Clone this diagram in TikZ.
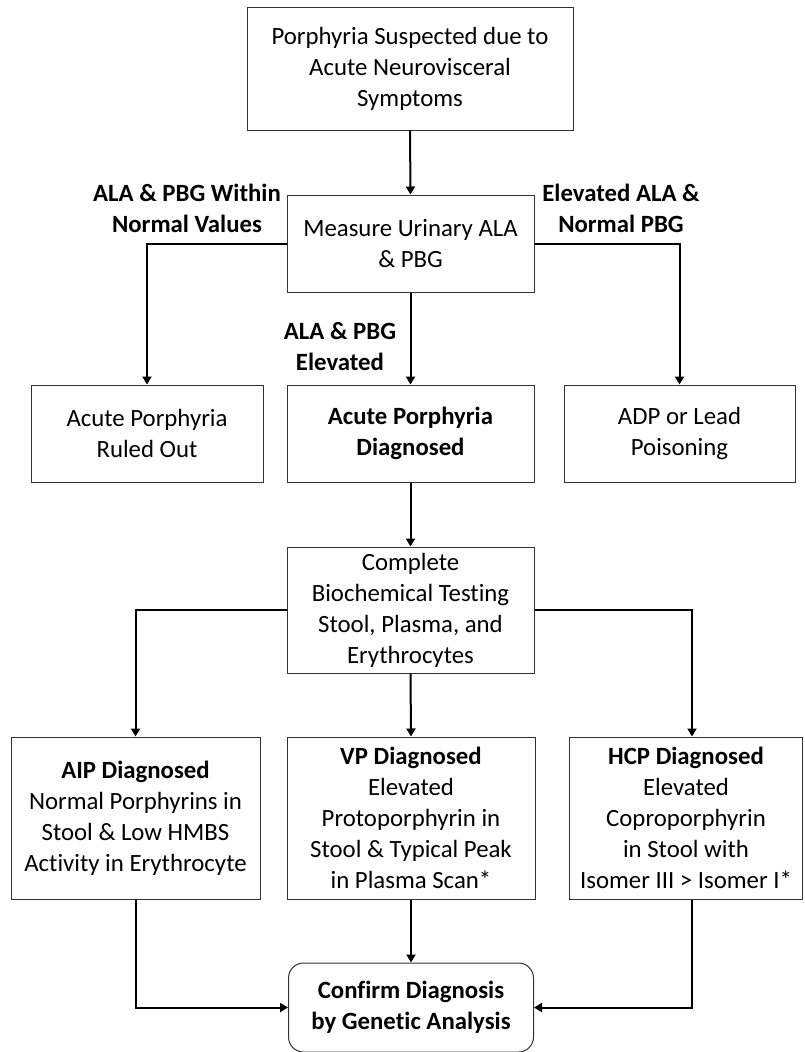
\documentclass[tikz,border=0pt]{standalone}
\usepackage{fontspec}
\setmainfont[Ligatures={NoCommon}]{Carlito}
\usetikzlibrary{arrows.meta}
\begin{document}
\begin{tikzpicture}[x=1pt,y=-1pt,
  every node/.style={font=\fontsize{24.8}{31}\selectfont, align=center, inner sep=0pt},
  box/.style={draw=black!80, line width=1pt, fill=white},
  lbl/.style={font=\fontsize{24.8}{31}\selectfont\bfseries},
  conn/.style={line width=2pt, black, -{Triangle[length=8pt,width=9pt]}},
  plain/.style={line width=2pt, black}]
\useasboundingbox (0,0) rectangle (804,1052);

\node[box, minimum width=326pt, minimum height=123pt] (top) at (410,68.5)
  {Porphyria Suspected due to\\Acute Neurovisceral\\Symptoms};
\node[box, minimum width=247pt, minimum height=97pt] (measure) at (410.5,243.5)
  {Measure Urinary ALA\\\& PBG};
\node[box, minimum width=232pt, minimum height=97pt] (ruled) at (147,433.5)
  {Acute Porphyria\\Ruled Out};
\node[box, minimum width=247pt, minimum height=97pt] (acute) at (410.5,433.5)
  {\bfseries Acute Porphyria\\\bfseries Diagnosed};
\node[box, minimum width=231pt, minimum height=97pt] (adp) at (679.5,433.5)
  {ADP or Lead\\Poisoning};
\node[box, minimum width=247pt, minimum height=126pt] (complete) at (410.5,610)
  {Complete\\Biochemical Testing\\Stool, Plasma, and\\Erythrocytes};
\node[box, minimum width=249pt, minimum height=162pt] (aip) at (135.5,818)
  {\textbf{AIP Diagnosed}\\Normal Porphyrins in\\Stool \& Low HMBS\\Activity in Erythrocyte};
\node[box, minimum width=248pt, minimum height=162pt] (vp) at (411,818)
  {\textbf{VP Diagnosed}\\Elevated\\Protoporphyrin in\\Stool \& Typical Peak\\in Plasma Scan*};
\node[box, minimum width=233pt, minimum height=162pt] (hcp) at (686,818)
  {\textbf{HCP Diagnosed}\\Elevated\\Coproporphyrin\\in Stool with\\Isomer III > Isomer I*};
\node[box, rounded corners=15pt, minimum width=245pt, minimum height=89pt] (confirm) at (411,1007.5)
  {\textbf{Confirm Diagnosis}\\\textbf{by Genetic Analysis}};

\node[lbl] (l1) at (187,208.5) {ALA \& PBG Within\\Normal Values};
\node[lbl] (l2) at (621,208.5) {Elevated ALA \&\\Normal PBG};
\node[lbl] (l3) at (340,347) {ALA \& PBG\\Elevated};

\draw[conn] (top.south) -- (measure.north);
\draw[conn] (measure.west) -| (ruled.north);
\draw[conn] (measure.south) -- (acute.north);
\draw[conn] (measure.east) -| (adp.north);
\draw[conn] (acute.south) -- (complete.north);
\draw[conn] (complete.west) -| (aip.north);
\draw[conn] (complete.south) -- (vp.north);
\draw[conn] (complete.east) -| ([xshift=6pt]hcp.north);
\draw[conn] (aip.south) |- (confirm.west);
\draw[conn] (vp.south) -- (confirm.north);
\draw[conn] ([xshift=6pt]hcp.south) |- (confirm.east);
\end{tikzpicture}
\end{document}
